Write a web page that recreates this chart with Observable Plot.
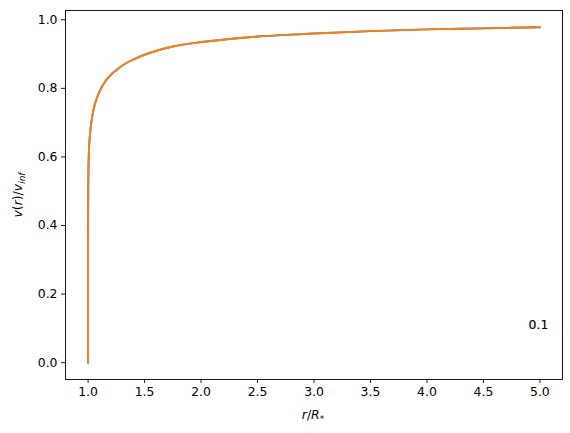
<!DOCTYPE html>
<html>
<head>
<meta charset="utf-8">
<script src="https://cdn.jsdelivr.net/npm/d3@7"></script>
<script src="https://cdn.jsdelivr.net/npm/@observablehq/plot@0.6"></script>
<style>
  html, body { margin: 0; padding: 0; background: #fff; }
  svg { display: block; }
</style>
</head>
<body>
<div id="chart"></div>
<script>
// radius r/R* and velocity v(r)/v_inf
const radius = [1.0, 1.00001, 1.0001, 1.001, 1.005, 1.01, 1.02, 1.03, 1.05, 1.075, 1.1, 1.15, 1.2, 1.25, 1.3, 1.4, 1.5, 1.6, 1.75, 2.0, 2.25, 2.5, 2.75, 3.0, 3.5, 4.0, 4.5, 5.0];
const velocityA = [0.0, 0.32, 0.40, 0.50, 0.59, 0.634, 0.676, 0.704, 0.741, 0.769, 0.790, 0.819, 0.839, 0.853, 0.866, 0.884, 0.898, 0.909, 0.922, 0.935, 0.944, 0.951, 0.956, 0.960, 0.967, 0.972, 0.975, 0.978];
const velocityB = velocityA.slice();
const xTicks = [1.0, 1.5, 2.0, 2.5, 3.0, 3.5, 4.0, 4.5, 5.0];
const yTicks = [0.0, 0.2, 0.4, 0.6, 0.8, 1.0];
const annotation = [{x: 4.9, y: 0.1, text: "0.1"}];

const seriesA = radius.map((r, i) => ({r, v: velocityA[i]}));
const seriesB = radius.map((r, i) => ({r, v: velocityB[i]}));

const font = "DejaVu Sans, sans-serif";
const plot = Plot.plot({
  width: 570,
  height: 433,
  marginLeft: 65,
  marginRight: 8,
  marginTop: 10,
  marginBottom: 54,
  style: {fontFamily: font, fontSize: "12.4px", color: "#000", background: "#fff"},
  x: {domain: [0.8, 5.2], label: null},
  y: {domain: [-0.049, 1.027], label: null},
  marks: [
    Plot.axisX({ticks: xTicks, tickFormat: d3.format(".1f"), tickSize: 4, tickPadding: 4, fontSize: 12.4, stroke: "#000", strokeWidth: 0.9, color: "#000"}),
    Plot.axisY({ticks: yTicks, tickFormat: d3.format(".1f"), tickSize: 4, tickPadding: 4, fontSize: 12.4, stroke: "#000", strokeWidth: 0.9, color: "#000"}),
    Plot.line(seriesA, {x: "r", y: "v", stroke: "#1f77b4", strokeWidth: 1.9, curve: "monotone-x"}),
    Plot.line(seriesB, {x: "r", y: "v", stroke: "#ff7f0e", strokeWidth: 1.9, curve: "monotone-x"}),
    Plot.text(annotation, {x: "x", y: "y", text: "text", textAnchor: "start", lineAnchor: "bottom", dy: 1, fontSize: 12.4, fill: "#000", stroke: "#000", strokeWidth: 0.15}),
    Plot.frame({stroke: "#000", strokeWidth: 0.9})
  ]
});
document.getElementById("chart").appendChild(plot);

// axis titles with mathtext-like styling
const svg = d3.select(plot);
const xl = svg.append("text")
  .attr("x", 313).attr("y", 419)
  .attr("text-anchor", "middle")
  .style("font-family", font).style("font-size", "12.4px").attr("fill", "#000");
xl.append("tspan").style("font-style", "italic").text("r");
xl.append("tspan").text("/");
xl.append("tspan").style("font-style", "italic").text("R");
xl.append("tspan").attr("dy", 3).style("font-size", "9px").text("*");

const yl = svg.append("text")
  .attr("transform", "translate(22,195) rotate(-90)")
  .attr("text-anchor", "middle")
  .style("font-family", font).style("font-size", "12.4px").attr("fill", "#000");
yl.append("tspan").style("font-style", "italic").text("v");
yl.append("tspan").text("(");
yl.append("tspan").style("font-style", "italic").text("r");
yl.append("tspan").text(")/");
yl.append("tspan").style("font-style", "italic").text("v");
yl.append("tspan").attr("dy", 3).style("font-size", "9px").style("font-style", "italic").text("inf");
</script>
</body>
</html>
